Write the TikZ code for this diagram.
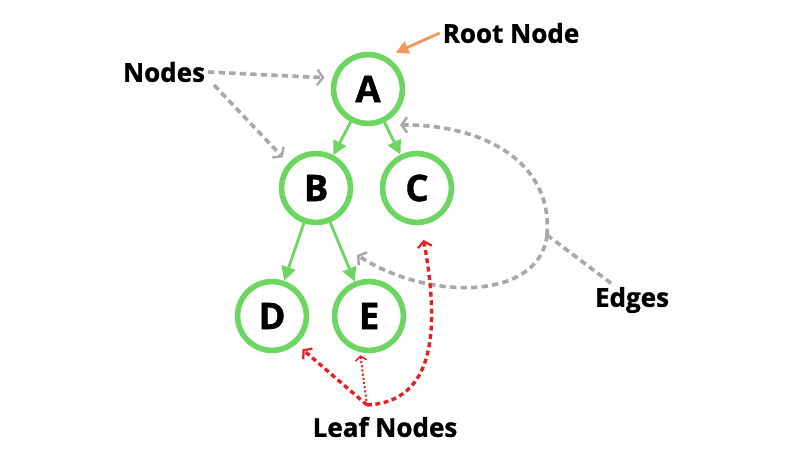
\documentclass[tikz,border=0pt]{standalone}
\usepackage{fontspec}
\setmainfont{Open Sans}[BoldFeatures={FakeBold=1.2}]
\usetikzlibrary{arrows.meta}

\definecolor{treegreen}{RGB}{108,214,96}
\definecolor{hintgray}{RGB}{168,168,168}
\definecolor{rootorange}{RGB}{247,150,90}
\definecolor{leafred}{RGB}{232,32,36}

\begin{document}
\begin{tikzpicture}[x=0.025cm,y=-0.025cm,
        vertex/.style={draw=treegreen,line width=4pt,circle,minimum size=1.72cm,inner sep=0pt,
            font=\fontsize{26}{26}\selectfont\bfseries},
        tag/.style={font=\fontsize{18.5}{18.5}\selectfont\bfseries,inner sep=2pt},
        branch/.style={draw=treegreen,line width=2pt,-{Triangle[length=10pt,width=10pt]}},
        hint/.style={draw=hintgray,line width=2.6pt,dash pattern=on 4.5pt off 3pt,
            -{Straight Barb[length=4pt,width=11pt,line width=1.7pt]}},
        leaf/.style={draw=leafred,line width=2.4pt,dash pattern=on 3.5pt off 2.5pt,
            -{Straight Barb[length=4pt,width=10pt,line width=1.6pt]}}]
        \useasboundingbox (0,0) rectangle (785,462);

        % the tree
        \node[vertex] (A) at (368,89) {A};
        \node[vertex] (B) at (316,188) {B};
        \node[vertex] (C) at (417,188) {C};
        \node[vertex] (D) at (272,316) {D};
        \node[vertex] (E) at (369,316) {E};
        \draw[branch] (A) -- (B);
        \draw[branch] (A) -- (C);
        \draw[branch] (B) -- (D);
        \draw[branch] (B) -- (E);

        % labels
        \node[tag] (root) at (511,33) {Root Node};
        \node[tag] (nodes) at (164,72) {Nodes};
        \node[tag] (edges) at (632,300) {Edges};
        \node[tag] (leaves) at (385,427) {Leaf Nodes};

        \draw[rootorange,line width=2pt,-{Triangle[length=9pt,width=9pt]},shorten >=0.25cm] (root.west) -- (A.60);

        \draw[hint,shorten >=0.2cm] (nodes.east) -- (A.163);
        \draw[hint,shorten >=0.2cm] ([xshift=0.15cm]nodes.south east) -- (B.138);

        \coordinate (ej) at (547,235);
        \coordinate (acTip) at (400,125);
        \coordinate (beTip) at (357,255);
        \draw[hint] (ej) .. controls (553,160) and (480,124) .. (acTip);
        \draw[hint] (ej) .. controls (540,300) and (430,302) .. (beTip);
        \draw[hint,-] (ej) -- ([xshift=0.5cm]edges.north west);

        \coordinate (lj) at (367,405);
        \draw[leaf,shorten >=0.2cm] (lj) -- (D.-49);
        \draw[leaf,line width=1.4pt,dash pattern=on 1.5pt off 1.5pt,shorten >=0.08cm,
            -{Straight Barb[length=3pt,width=8pt,line width=1.1pt]}] (lj) -- (E.-104);
        \draw[leaf,shorten >=0.38cm] (lj) .. controls (435,402) and (440,330) .. (C.-84);
\end{tikzpicture}
\end{document}
